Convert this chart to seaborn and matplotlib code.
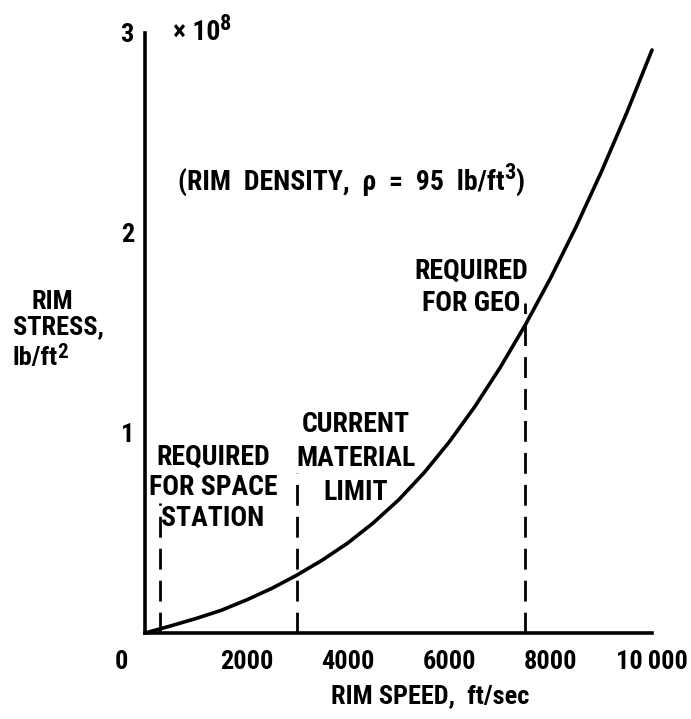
import matplotlib
matplotlib.use("Agg")
import matplotlib.pyplot as plt
import seaborn as sns

# --- data ---
# rim speed, ft/sec
speed = [0, 500, 1000, 1500, 2000, 2500, 3000, 3500, 4000, 4500, 5000,
         5500, 6000, 6500, 7000, 7500, 8000, 8500, 9000, 9500, 10000]
# rim stress, x 10^8 lb/ft^2
stress = [0.0, 0.035, 0.072, 0.113, 0.165, 0.223, 0.29, 0.365, 0.45, 0.55,
          0.665, 0.80, 0.955, 1.13, 1.325, 1.54, 1.775, 2.03, 2.305, 2.60,
          2.915]

# dashed requirement markers
marker_speeds = [300, 3000, 7500]
marker_tops = [0.65, 0.8, 1.65]

x_ticks = [2000, 4000, 6000, 8000, 10000]
x_tick_labels = ["2000", "4000", "6000", "8000", "10\u2009000"]
y_ticks = [1, 2, 3]
y_tick_labels = ["1", "2", "3"]

# --- style ---
sns.set_theme(style="white")
plt.rcParams["font.family"] = ["Liberation Sans Narrow", "Roboto Condensed",
                               "DejaVu Sans"]
plt.rcParams["font.stretch"] = "condensed"
plt.rcParams["font.weight"] = "bold"
for key in ["text.color", "axes.labelcolor", "xtick.color", "ytick.color"]:
    plt.rcParams[key] = "black"

FS = 19
FA = 20  # annotation size
W, H = 691, 719
fig = plt.figure(figsize=(W / 100, H / 100), dpi=100)
ax = fig.add_axes([145 / W, 1 - 633 / H, (652 - 145) / W, (633 - 33) / H])


def with_superscript(base_text, sup, tail="", size=FA, drop=3.5):
    """Hang a large superscript (and an optional tail) off a text."""
    s = ax.annotate(sup, xy=(1, 1), xycoords=base_text, xytext=(-0.5, -drop),
                    textcoords="offset points", fontsize=size * 0.8,
                    ha="left", va="center", annotation_clip=False)
    if tail:
        ax.annotate(tail, xy=(1, 0), xycoords=(s, base_text),
                    xytext=(0.5, 0), textcoords="offset points",
                    fontsize=size, ha="left", va="bottom",
                    annotation_clip=False)


sns.lineplot(x=speed, y=stress, ax=ax, color="black", linewidth=2.6,
             clip_on=False)
ax.vlines(marker_speeds, 0, marker_tops, colors="black", linewidth=2.0,
          linestyles=(0, (7.5, 4)))

ax.set_xlim(0, 10000)
ax.set_ylim(0, 3)
for side in ["top", "right"]:
    ax.spines[side].set_visible(False)
for side in ["left", "bottom"]:
    ax.spines[side].set_linewidth(2.6)
    ax.spines[side].set_color("black")

ax.set_xticks(x_ticks)
ax.set_xticklabels(x_tick_labels)
ax.set_yticks(y_ticks)
ax.set_yticklabels(y_tick_labels)
ax.tick_params(axis="both", direction="in", length=12, width=1.6,
               color="black", labelsize=FS)
ax.tick_params(axis="x", pad=12)
ax.tick_params(axis="y", pad=8)

# shared origin label
fig.text(121 / W, 1 - 662 / H, "0", ha="center", va="center", fontsize=FS)

# axis titles
fig.text(430 / W, 1 - 696 / H, "RIM SPEED,  ft/sec", ha="center",
         va="center", fontsize=FS)
fig.text(52 / W, 1 - 302 / H, "RIM", ha="center", va="center", fontsize=FS)
fig.text(13 / W, 1 - 327 / H, "STRESS,", ha="left", va="center", fontsize=FS)
ylab = fig.text(13 / W, 1 - 358 / H, "lb/ft", ha="left", va="center",
                fontsize=FS)
with_superscript(ylab, "2", size=FS, drop=5)

# annotations
mult = ax.text(560, 3.0, "\u00d7 10", ha="left", va="center", fontsize=FA)
with_superscript(mult, "8")
dens = ax.text(650, 2.255, "(RIM  DENSITY,  \u03c1  =  95  lb/ft", ha="left",
               va="center", fontsize=FA)
with_superscript(dens, "3", ")")
ax.text(1340, 0.7275, "REQUIRED\nFOR SPACE\nSTATION", ha="center",
        va="center", fontsize=FA, linespacing=1.18)
ax.text(4160, 0.8725, "CURRENT\nMATERIAL\nLIMIT", ha="center", va="center",
        fontsize=FA, linespacing=1.33)
ax.text(6430, 1.7275, "REQUIRED\nFOR GEO", ha="center", va="center",
        fontsize=FA, linespacing=1.24)

fig.savefig("out.png", dpi=100)
